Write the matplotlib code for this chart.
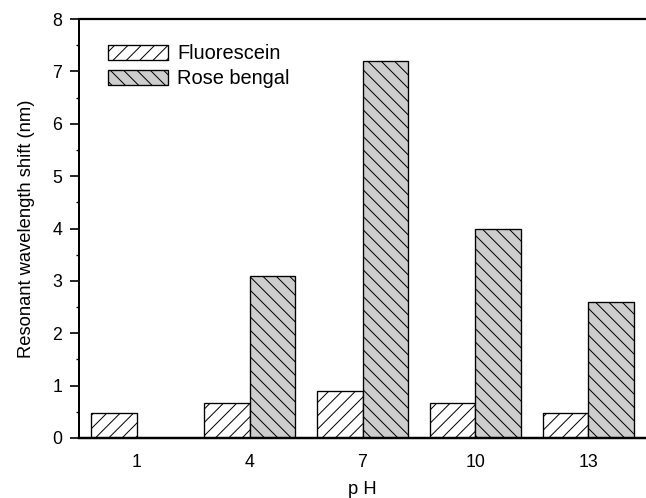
import matplotlib.pyplot as plt
import numpy as np

plt.rcParams['font.family'] = ['Liberation Sans', 'DejaVu Sans']
plt.rcParams['hatch.linewidth'] = 0.9

ph = ['1', '4', '7', '10', '13']
fluorescein = [0.47, 0.66, 0.90, 0.67, 0.48]
rose_bengal = [0, 3.1, 7.2, 4.0, 2.6]


def plot_shift():
    fig = plt.figure(figsize=(6.46 / 0.8, 4.98 / 0.8), dpi=80)
    ax = fig.add_axes([0.1223, 0.1205, 0.8777, 0.8413])

    x = np.arange(len(ph))
    w = 0.4
    ax.bar(x - w / 2, fluorescein, w, facecolor='white', edgecolor='black',
           hatch='//', linewidth=1.2, label='Fluorescein')
    ax.bar(x + w / 2, rose_bengal, w, facecolor='#cdcdcd', edgecolor='black',
           hatch='\\\\', linewidth=1.2, label='Rose bengal')

    ax.set_xlim(-0.51, 4.51)
    ax.set_ylim(0, 8)
    ax.set_xticks(x)
    ax.set_xticklabels(ph)
    ax.set_yticks(range(0, 9))
    ax.set_yticks(np.arange(0.5, 8, 1), minor=True)
    ax.tick_params(axis='x', length=0, pad=14, labelsize=16)
    ax.tick_params(axis='y', which='major', direction='out', length=8,
                   width=1.5, pad=7, labelsize=16)
    ax.tick_params(axis='y', which='minor', direction='out', length=3, width=1.2)

    ax.spines['right'].set_visible(False)
    ax.spines['bottom'].set_linewidth(2.2)
    ax.spines['top'].set_linewidth(2.0)
    ax.spines['left'].set_linewidth(1.8)

    ax.set_ylabel('Resonant wavelength shift (nm)', fontsize=16.5, labelpad=16)
    ax.set_xlabel('p H', fontsize=16.5, labelpad=9)

    ax.legend(loc='upper left', bbox_to_anchor=(0.051, 0.94), frameon=False,
              fontsize=18, handlelength=3.0, handleheight=0.8,
              handletextpad=0.45, labelspacing=0.3, borderpad=0,
              borderaxespad=0)

    plt.savefig('out.png', dpi=80)


if __name__ == '__main__':
    plot_shift()
